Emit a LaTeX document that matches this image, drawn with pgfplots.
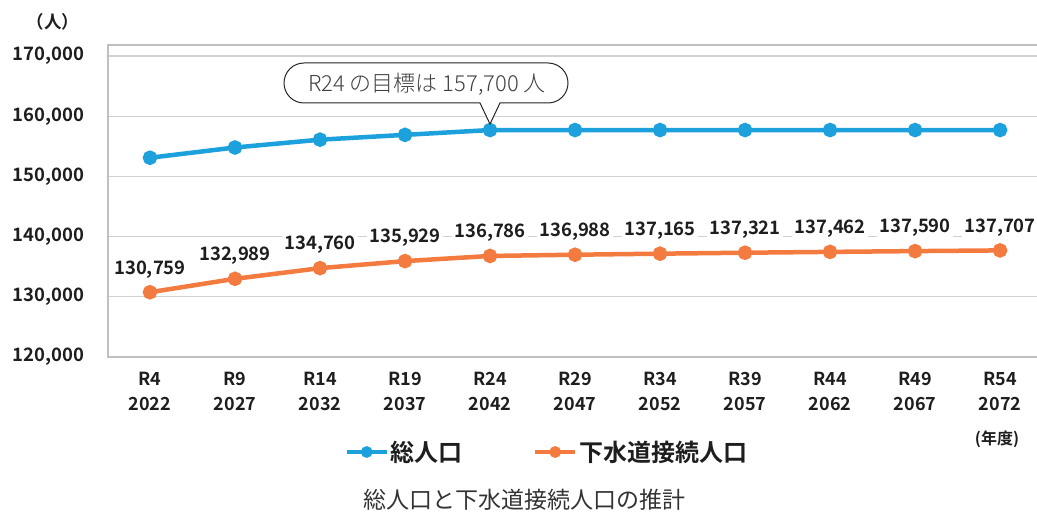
\documentclass[border=0pt]{standalone}
\usepackage{pgfplots}
\pgfplotsset{compat=1.18}
\usepackage{fontspec}
\setmainfont{Noto Sans CJK JP}[BoldFont={Noto Sans CJK JP Bold}]
\newfontfamily\lightfont{Noto Sans CJK JP Light}
\definecolor{cblue}{HTML}{1DA1DC}
\definecolor{corange}{HTML}{F47B3F}
\definecolor{ctext}{HTML}{1E1E1E}
\begin{document}
\begin{tikzpicture}[x=1bp,y=1bp]
\useasboundingbox (0,0) rectangle (1037,-517);
\begin{axis}[
  at={(108bp,-357bp)}, anchor=south west,
  scale only axis, width=932bp, height=312bp,
  xmin=-0.494, xmax=10.47, ymin=120000, ymax=171827,
  xtick={0,...,10},
  xticklabels={{R4\\2022},{R9\\2027},{R14\\2032},{R19\\2037},{R24\\2042},{R29\\2047},{R34\\2052},{R39\\2057},{R44\\2062},{R49\\2067},{R54\\2072}},
  ytick={120000,130000,...,170000},
  scaled y ticks=false,
  yticklabel={\pgfmathprintnumber[fixed,precision=0,1000 sep={,},assume math mode=true]{\tick}},
  /pgf/number format/assume math mode=true,
  ymajorgrids, grid style={draw=black!18, line width=1.2bp},
  axis line style={draw=black!25, line width=1.2bp},
  major tick length=0pt,
  xticklabel style={align=center, font=\bfseries\fontsize{18bp}{25bp}\selectfont, text=ctext, yshift=-12bp},
  yticklabel style={font=\bfseries\fontsize{18.5bp}{20bp}\selectfont, text=ctext, anchor=east, xshift=-20bp},
  legend style={at={(0.471,-0.3045)}, anchor=center, draw=none, fill=none,
    font=\bfseries\fontsize{24bp}{26bp}\selectfont, text=ctext,
    /tikz/every even column/.append style={column sep=68bp}},
  legend columns=2,
  legend image code/.code={\draw[#1, mark size=3.5bp, mark repeat=2, mark phase=2] plot coordinates {(0bp,0bp) (20bp,0bp) (40bp,0bp)};},
  clip=false,
]
\addplot[cblue, line width=4.5bp, mark=*, mark size=5bp, mark options={solid}] coordinates {
  (0,153100) (1,154800) (2,156100) (3,156900) (4,157700) (5,157700)
  (6,157700) (7,157700) (8,157700) (9,157700) (10,157700)};
\addlegendentry{総人口}
\addplot[corange, line width=4.5bp, mark=*, mark size=5bp, mark options={solid},
  point meta=y,
  nodes near coords={\pgfmathprintnumber[fixed,precision=0,1000 sep={,},assume math mode=true]{\pgfplotspointmeta}},
  every node near coord/.style={font=\bfseries\fontsize{18.5bp}{20bp}\selectfont, text=ctext, fill=white, inner sep=2.5bp, anchor=center, yshift=23bp}
] coordinates {
  (0,130759) (1,132989) (2,134760) (3,135929) (4,136786) (5,136988)
  (6,137165) (7,137321) (8,137462) (9,137590) (10,137707)};
\addlegendentry{下水道接続人口}
\end{axis}
% callout
\draw[line width=1bp, black!85, fill=white]
  (304,-63) -- (548,-63) arc[start angle=90, end angle=-90, radius=20]
  -- (500,-103) -- (490,-124) -- (480,-103) -- (304,-103)
  arc[start angle=270, end angle=90, radius=20] -- cycle;
\node[text=black!75, font=\lightfont\fontsize{22bp}{24bp}\selectfont] at (427,-84) {R24 の目標は 157,700 人};
\node[text=ctext, font=\bfseries\fontsize{17.5bp}{19bp}\selectfont] at (53,-22) {（人）};
\node[text=ctext, font=\bfseries\fontsize{16bp}{18bp}\selectfont] at (997,-439) {(年度)};
\node[text=black!80, font=\fontsize{23bp}{25bp}\selectfont] at (524,-500) {総人口と下水道接続人口の推計};
\end{tikzpicture}
\end{document}
